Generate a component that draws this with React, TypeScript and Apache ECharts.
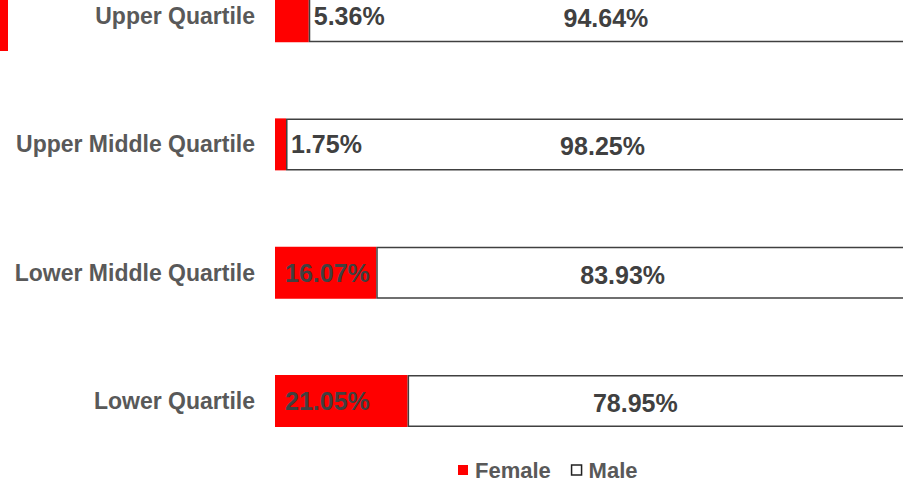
import React, { useEffect, useRef } from "react";
import * as echarts from "echarts";

const categories = ["Upper Quartile", "Upper Middle Quartile", "Lower Middle Quartile", "Lower Quartile"];
const femaleValues = [5.36, 1.75, 16.07, 21.05];
const maleValues = [94.64, 98.25, 83.93, 78.95];

// label style offsets (px), not data
const maleLabelOffsets = [0, 8, -17, -20];

const SHIFT = 48;

export default function App() {
  const ref = useRef<HTMLDivElement>(null);
  useEffect(() => {
    if (!ref.current) return;
    const chart = echarts.init(ref.current, null, { renderer: "svg" });
    const labelFont = {
      fontFamily: "Liberation Sans, Arial, sans-serif",
      fontWeight: "bold" as const,
      fontSize: 25,
      color: "#404040",
    };
    chart.setOption({
      animation: false,
      backgroundColor: "#ffffff",
      grid: { left: 275, width: 630, top: 0, height: 513, containLabel: false },
      xAxis: { type: "value", min: 0, max: 100, show: false },
      yAxis: {
        type: "category",
        data: categories,
        inverse: true,
        axisLine: { show: false },
        axisTick: { show: false },
        splitLine: { show: false },
        axisLabel: {
          margin: 20,
          color: "#595959",
          fontFamily: "Liberation Sans, Arial, sans-serif",
          fontWeight: "bold",
          fontSize: 23,
        },
      },
      legend: {
        left: 458,
        top: SHIFT + 459,
        padding: 0,
        itemWidth: 10,
        itemHeight: 10,
        itemGap: 20,
        icon: "rect",
        textStyle: {
          color: "#595959",
          fontFamily: "Liberation Sans, Arial, sans-serif",
          fontWeight: "bold",
          fontSize: 22,
          lineHeight: 22,
          padding: [0, 0, 0, 2],
        },
        data: [
          { name: "Female", itemStyle: { color: "#ff0000" } },
          { name: "Male", itemStyle: { color: "#ffffff", borderColor: "#222222", borderWidth: 1.5 } },
        ],
      },
      graphic: [
        { type: "rect", left: 0, top: SHIFT, shape: { width: 8, height: 51 }, style: { fill: "#ff0000" } },
      ],
      series: [
        {
          name: "Female",
          type: "bar",
          stack: "total",
          barWidth: 52,
          itemStyle: { color: "#ff0000" },
          data: femaleValues.map((v) => ({
            value: v,
            label:
              v < 10
                ? { show: true, position: "right", distance: 5, ...labelFont, formatter: "{c}%" }
                : { show: true, position: "insideLeft", distance: 10, ...labelFont, formatter: "{c}%" },
          })),
        },
        {
          name: "Male",
          type: "bar",
          stack: "total",
          barWidth: 52,
          itemStyle: { color: "#ffffff", borderColor: "#404040", borderWidth: 1.5 },
          data: maleValues.map((v, i) => ({
            value: v,
            label: { show: true, position: "inside", offset: [maleLabelOffsets[i] - 1, 2], ...labelFont, formatter: "{c}%" },
          })),
        },
      ],
    });
    return () => chart.dispose();
  }, []);
  return (
    <div style={{ position: "absolute", left: 0, top: 0, width: 903, height: 482, overflow: "hidden" }}>
      <div ref={ref} style={{ position: "absolute", left: 0, top: -SHIFT, width: 905, height: 482 + SHIFT }} />
    </div>
  );
}
